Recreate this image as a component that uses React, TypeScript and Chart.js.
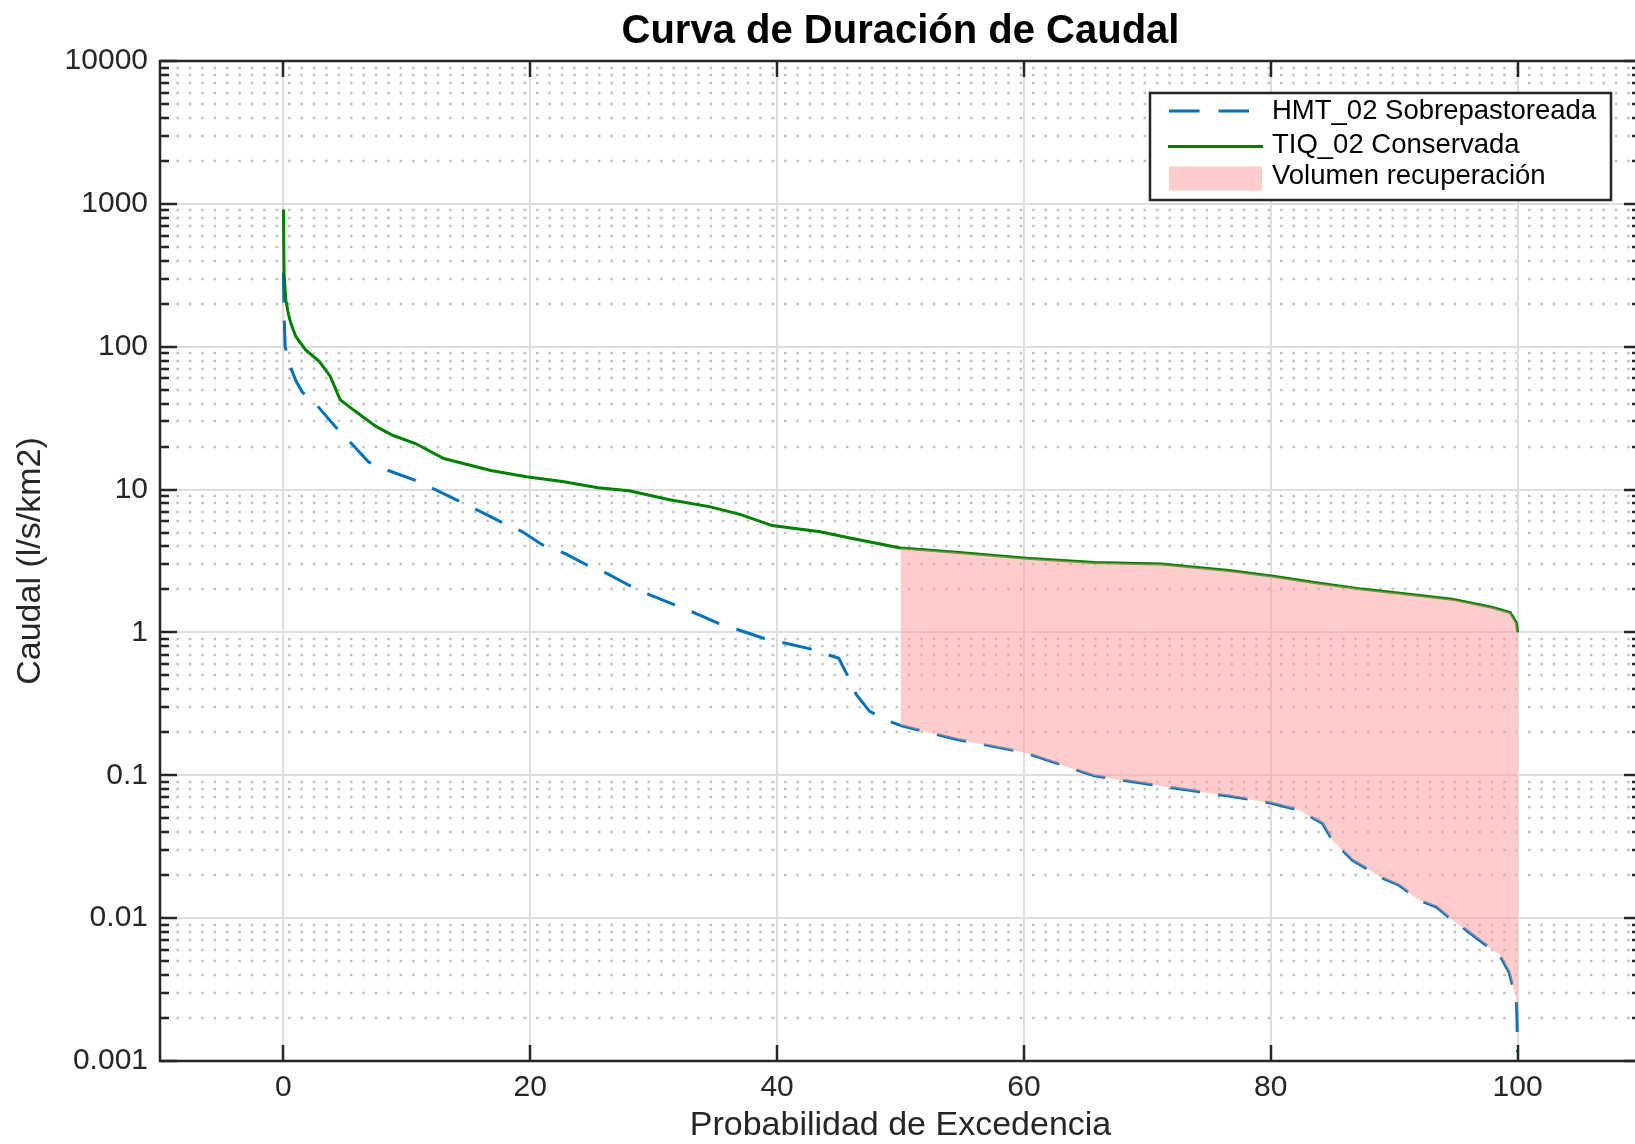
import React, { useEffect, useRef } from 'react';
import { Chart, registerables } from 'chart.js';

Chart.register(...registerables);

const FONT = '"Liberation Sans", Arial, Helvetica, sans-serif';

const chartTitle = 'Curva de Duración de Caudal';
const xAxisTitle = 'Probabilidad de Excedencia';
const yAxisTitle = 'Caudal (l/s/km2)';
const seriesLabels = ['HMT_02 Sobrepastoreada', 'TIQ_02 Conservada', 'Volumen recuperación'];

const xTickValues = [0, 20, 40, 60, 80, 100];
const yTickValues = [0.001, 0.01, 0.1, 1, 10, 100, 1000, 10000];
const yTickLabels = ['0.001', '0.01', '0.1', '1', '10', '100', '1000', '10000'];

// HMT_02 Sobrepastoreada (blue dashed)
const hmtProb = [
  0, 0.03, 0.06, 0.14, 0.5, 1.0, 1.54, 2.7, 4.3, 5.4, 6.9, 8.5, 10.7, 12.1, 14.1, 15.7, 17.7, 19.3,
  21.0, 22.8, 24.6, 26.2, 28.0, 29.8, 31.4, 33.4, 35.2, 36.9, 38.9, 40.7, 42.6, 44.3, 45.0, 45.7,
  46.4, 47.5, 49.2, 50.1, 54.5, 60.1, 65.7, 71.1, 76.6, 80.0, 82.3, 84.2, 85.0, 86.6, 89.1, 90.4,
  92.0, 93.4, 94.7, 95.8, 97.2, 98.5, 99.3, 99.9, 99.95, 100,
];
const hmtCaudal = [
  330, 225, 162, 100, 75, 58, 48, 39, 27, 21.5, 15.6, 13.6, 11.6, 10.2, 8.4, 7.2, 5.9, 5.1,
  4.1, 3.57, 2.96, 2.59, 2.14, 1.82, 1.6, 1.36, 1.16, 1.04, 0.91, 0.84, 0.77, 0.69, 0.66, 0.5,
  0.37, 0.28, 0.237, 0.222, 0.179, 0.144, 0.099, 0.084, 0.0716, 0.064, 0.057, 0.046, 0.035, 0.0255, 0.019, 0.017,
  0.0134, 0.012, 0.0097, 0.0083, 0.0067, 0.0056, 0.0042, 0.0027, 0.002, 0.00115,
];

// TIQ_02 Conservada (green solid)
const tiqProb = [
  0, 0.02, 0.05, 0.19, 0.4, 0.59, 1.0, 1.8, 2.9, 3.8, 4.6, 5.3, 6.4, 7.5, 8.85, 10.7, 13.0, 16.8,
  19.7, 22.6, 25.5, 28.0, 31.3, 34.5, 37.0, 39.6, 43.5, 46.1, 50.0, 54.5, 60.2, 65.7, 71.1, 76.6,
  80.2, 83.8, 87.4, 91.0, 94.7, 97.9, 99.4, 99.9, 100,
];
const tiqCaudal = [
  912, 600, 328, 214, 170, 147, 118, 95, 79, 62, 42.5, 38.2, 32.5, 27.7, 24.0, 21.0, 16.5, 13.6,
  12.3, 11.4, 10.3, 9.8, 8.5, 7.6, 6.7, 5.6, 5.06, 4.54, 3.9, 3.64, 3.3, 3.09, 3.01, 2.71,
  2.47, 2.22, 2.01, 1.86, 1.71, 1.5, 1.38, 1.17, 1.0,
];

const recoveryFrom = 50;

const AX = '#262626';

const matlabAxes = {
  id: 'matlabAxes',
  beforeDatasetsDraw(chart: any) {
    const { ctx, chartArea: a, scales } = chart;
    const x = scales.x;
    const y = scales.y;
    ctx.save();
    // minor dotted y grid
    ctx.strokeStyle = 'rgb(192,192,192)';
    ctx.lineWidth = 2.5;
    ctx.setLineDash([2.5, 9.9]);
    for (let e = -3; e < 4; e++) {
      for (let m = 2; m <= 9; m++) {
        const py = Math.round(y.getPixelForValue(m * Math.pow(10, e)));
        ctx.beginPath();
        ctx.moveTo(a.left + 4, py);
        ctx.lineTo(a.right, py);
        ctx.stroke();
      }
    }
    // major grid
    ctx.setLineDash([]);
    ctx.strokeStyle = 'rgb(222,222,222)';
    ctx.lineWidth = 2;
    xTickValues.forEach((v) => {
      const px = Math.round(x.getPixelForValue(v));
      ctx.beginPath();
      ctx.moveTo(px, a.top);
      ctx.lineTo(px, a.bottom);
      ctx.stroke();
    });
    yTickValues.forEach((v) => {
      const py = Math.round(y.getPixelForValue(v));
      ctx.beginPath();
      ctx.moveTo(a.left, py);
      ctx.lineTo(a.right, py);
      ctx.stroke();
    });
    ctx.restore();
  },
  afterDatasetsDraw(chart: any) {
    const { ctx, chartArea: a, scales } = chart;
    const x = scales.x;
    const y = scales.y;
    ctx.save();
    ctx.strokeStyle = AX;
    ctx.lineWidth = 2.5;
    const seg = (x1: number, y1: number, x2: number, y2: number) => {
      ctx.beginPath();
      ctx.moveTo(x1, y1);
      ctx.lineTo(x2, y2);
      ctx.stroke();
    };
    // ticks
    for (let e = -3; e < 4; e++) {
      for (let m = 2; m <= 9; m++) {
        const py = Math.round(y.getPixelForValue(m * Math.pow(10, e)));
        seg(a.left, py, a.left + 9, py);
        seg(a.right, py, a.right - 9, py);
      }
    }
    yTickValues.forEach((v) => {
      const py = Math.round(y.getPixelForValue(v));
      seg(a.left, py, a.left + 17, py);
      seg(a.right, py, a.right - 17, py);
    });
    xTickValues.forEach((v) => {
      const px = Math.round(x.getPixelForValue(v));
      seg(px, a.bottom, px, a.bottom - 16);
      seg(px, a.top, px, a.top + 16);
    });
    // box
    ctx.strokeRect(a.left, a.top, a.right - a.left, a.bottom - a.top);
    ctx.restore();
  },
};

const legendBox = {
  id: 'legendBox',
  afterDraw(chart: any) {
    const { ctx } = chart;
    const left = 1150;
    const top = 93;
    const w = 461;
    const h = 107;
    ctx.save();
    ctx.fillStyle = '#ffffff';
    ctx.fillRect(left, top, w, h);
    ctx.strokeStyle = AX;
    ctx.lineWidth = 2.5;
    ctx.strokeRect(left, top, w, h);
    const rows = [111, 145.5, 176.5];
    // HMT sample
    ctx.strokeStyle = '#0072BD';
    ctx.lineWidth = 3;
    ctx.setLineDash([30.5, 19]);
    ctx.beginPath();
    ctx.moveTo(1169, rows[0]);
    ctx.lineTo(1263, rows[0]);
    ctx.stroke();
    ctx.setLineDash([]);
    // TIQ sample
    ctx.strokeStyle = '#008000';
    ctx.beginPath();
    ctx.moveTo(1168, rows[1] + 1);
    ctx.lineTo(1263, rows[1] + 1);
    ctx.stroke();
    // fill sample
    ctx.fillStyle = 'rgb(255,204,204)';
    ctx.fillRect(1169, 166.5, 93, 24);
    ctx.fillStyle = '#000';
    ctx.font = `27.5px ${FONT}`;
    ctx.textBaseline = 'middle';
    ctx.textAlign = 'left';
    seriesLabels.forEach((t, i) => ctx.fillText(t, 1272, rows[i]));
    ctx.restore();
  },
};

export default function App() {
  const ref = useRef<HTMLCanvasElement>(null);
  useEffect(() => {
    const canvas = ref.current!;
    const hmtPoints = hmtProb.map((x, i) => ({ x, y: hmtCaudal[i] }));
    const tiqPoints = tiqProb.map((x, i) => ({ x, y: tiqCaudal[i] }));
    const recoveryPoints = tiqPoints.filter((p) => p.x >= recoveryFrom);
    const chart = new Chart(canvas, {
      type: 'line',
      data: {
        datasets: [
          {
            label: seriesLabels[0],
            data: hmtPoints,
            borderColor: '#0072BD',
            borderWidth: 3,
            borderDash: [30, 18],
            pointRadius: 0,
            fill: false,
            tension: 0,
            order: 2,
          },
          {
            label: seriesLabels[1],
            data: tiqPoints,
            borderColor: '#008000',
            borderWidth: 3,
            pointRadius: 0,
            fill: false,
            tension: 0,
            order: 1,
          },
          {
            label: seriesLabels[2],
            data: recoveryPoints,
            borderColor: 'rgba(0,0,0,0)',
            borderWidth: 0,
            backgroundColor: 'rgba(255,153,153,0.5)',
            pointRadius: 0,
            fill: 0,
            tension: 0,
            order: 0,
          },
        ],
      } as any,
      options: {
        responsive: false,
        maintainAspectRatio: false,
        animation: false,
        devicePixelRatio: 1,
        events: [],
        layout: { padding: { top: 0, left: 0, right: 19, bottom: 0 } },
        plugins: {
          legend: { display: false },
          tooltip: { enabled: false },
          title: {
            display: true,
            fullSize: false,
            text: chartTitle,
            color: '#000',
            font: { family: FONT, size: 40, weight: 'bold' },
            padding: { top: 8, bottom: 5 },
          },
        },
        scales: {
          x: {
            type: 'linear',
            min: -10,
            max: 110,
            grid: { display: false, drawTicks: false },
            border: { display: false },
            ticks: { color: AX, font: { family: FONT, size: 30 }, padding: 9, autoSkip: false, maxRotation: 0 },
            title: {
              display: true,
              text: xAxisTitle,
              color: AX,
              font: { family: FONT, size: 34 },
              padding: { top: 0, bottom: 13.6 },
            },
            afterBuildTicks: (s: any) => {
              s.ticks = xTickValues.map((v) => ({ value: v }));
            },
            afterFit: (s: any) => {
              s.height = 99;
            },
          },
          y: {
            type: 'logarithmic',
            min: 0.001,
            max: 10000,
            grid: { display: false, drawTicks: false },
            border: { display: false },
            ticks: {
              color: AX,
              font: { family: FONT, size: 30 },
              padding: 12,
              autoSkip: false,
              callback: (_v: any, i: number) => yTickLabels[i],
            },
            title: {
              display: true,
              text: yAxisTitle,
              color: AX,
              font: { family: FONT, size: 34 },
              padding: { top: 10.6, bottom: 0 },
            },
            afterBuildTicks: (s: any) => {
              s.ticks = yTickValues.map((v) => ({ value: v }));
            },
            afterFit: (s: any) => {
              s.width = 160;
            },
          },
        },
      } as any,
      plugins: [matlabAxes, legendBox],
    });
    return () => chart.destroy();
  }, []);
  return (
    <div
      style={{
        position: 'fixed',
        left: 0,
        top: 0,
        width: '100vw',
        height: '100vh',
        overflow: 'hidden',
        background: '#fff',
      }}
    >
      <canvas ref={ref} width={1660} height={1160} style={{ display: 'block' }} />
    </div>
  );
}
